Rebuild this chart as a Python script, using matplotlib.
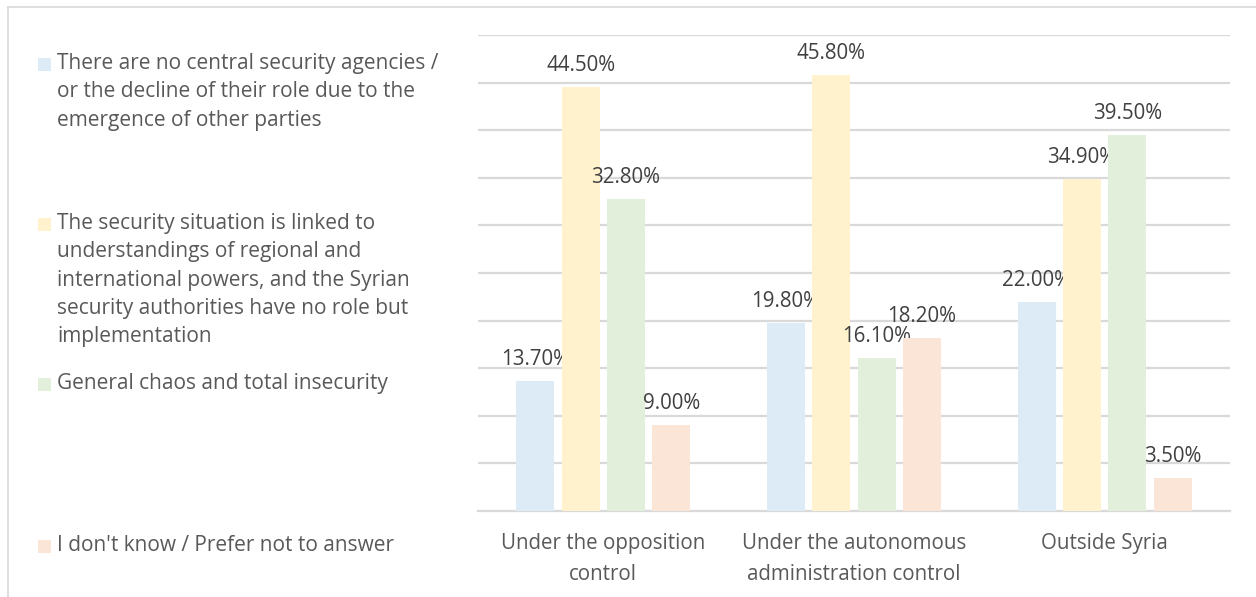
import matplotlib.pyplot as plt
from matplotlib.patches import Rectangle
from matplotlib.lines import Line2D

plt.rcParams['font.family'] = ['Open Sans', 'DejaVu Sans']

regions = ['Under the opposition\ncontrol',
           'Under the autonomous\nadministration control',
           'Outside Syria']
answers = ['There are no central security agencies /\nor the decline of their role due to the\nemergence of other parties',
           'The security situation is linked to\nunderstandings of regional and\ninternational powers, and the Syrian\nsecurity authorities have no role but\nimplementation',
           'General chaos and total insecurity',
           "I don't know / Prefer not to answer"]
no_agencies = [13.7, 19.8, 22.0]
regional_powers = [44.5, 45.8, 34.9]
chaos = [32.8, 16.1, 39.5]
dont_know = [9.0, 18.2, 3.5]
series = [no_agencies, regional_powers, chaos, dont_know]
colors = ['#DDEBF7', '#FFF2CC', '#E2EFDA', '#FBE5D6']

fig = plt.figure(figsize=(12.56, 5.97), dpi=100)
ax = fig.add_axes([478 / 1256, 1 - 511 / 597, 752 / 1256, 476 / 597])

bar_w = 0.152
step = 0.181
x = range(len(regions))
for i, (vals, col) in enumerate(zip(series, colors)):
    pos = [xi + (i - 1.5) * step for xi in x]
    bars = ax.bar(pos, vals, width=bar_w, color=col, zorder=3)
    for b, v in zip(bars, vals):
        ax.annotate(f'{v:.2f}%', (b.get_x() + b.get_width() / 2, v),
                    xytext=(0, 11.5), textcoords='offset points',
                    ha='center', va='baseline', fontsize=14.8, color='#404040')

ax.set_xlim(-0.5, 2.5)
ax.set_ylim(0, 50)
ax.set_yticks(range(5, 55, 5))
ax.set_yticklabels([])
ax.grid(axis='y', color='#D9D9D9', linewidth=1.6, zorder=0)
ax.tick_params(axis='y', length=0)
ax.tick_params(axis='x', length=0, pad=15.5)
ax.set_xticks(list(x))
ax.set_xticklabels(regions, fontsize=14.8, color='#595959', linespacing=1.65)
for side in ['top', 'right', 'left']:
    ax.spines[side].set_visible(False)
ax.spines['bottom'].set_color('#D9D9D9')
ax.spines['bottom'].set_linewidth(1.6)

# legend on the left, entries spread down the chart area
legend_tops = [53, 213, 373, 535]
for label, col, top in zip(answers, colors, legend_tops):
    fig.text(57 / 1256, 1 - top / 597, label, ha='left', va='top',
             fontsize=15.0, color='#595959', linespacing=1.46)
    fig.add_artist(Rectangle((38 / 1256, 1 - (top + 18) / 597), 13 / 1256, 13 / 597,
                             transform=fig.transFigure, color=col, lw=0))

# chart area border
fig.add_artist(Line2D([8 / 1256, 1.0], [1 - 6.5 / 597] * 2, transform=fig.transFigure,
                      color='#D9D9D9', lw=1.2))
fig.add_artist(Line2D([8 / 1256] * 2, [0.0, 1 - 6.5 / 597], transform=fig.transFigure,
                      color='#D9D9D9', lw=1.2))

fig.savefig('out.png', dpi=100)
